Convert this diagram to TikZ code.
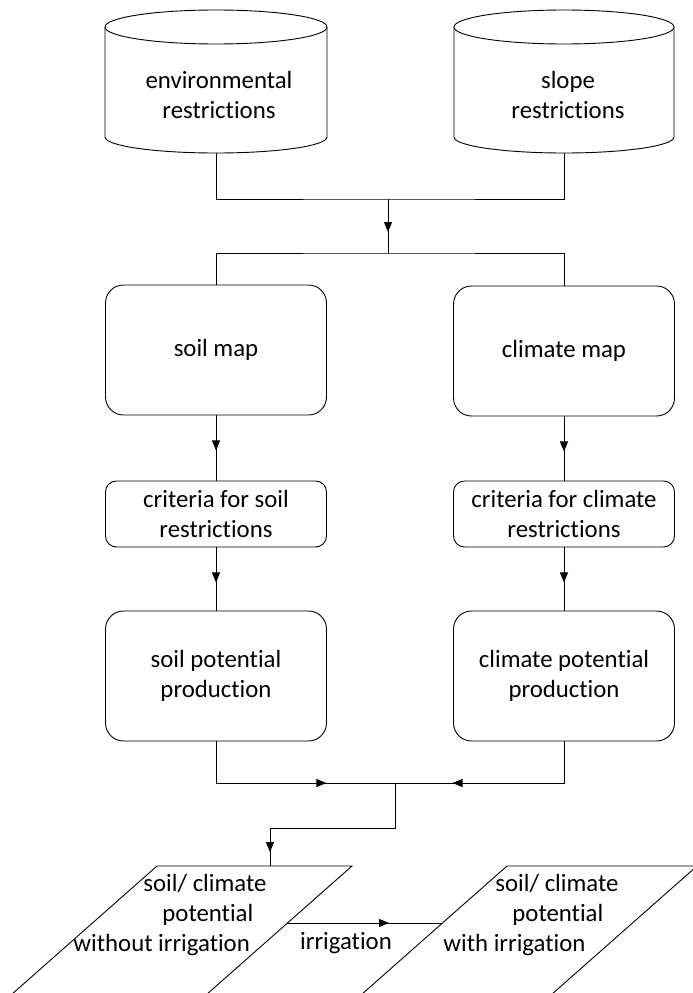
\documentclass[tikz,border=0pt]{standalone}
\usepackage{fontspec}
\setmainfont{Carlito}[Ligatures=NoCommon]
\usetikzlibrary{arrows.meta,decorations.markings}

\begin{document}
\begin{tikzpicture}[x=1pt,y=1pt,line width=0.9pt,
   every node/.style={font=\fontsize{24.8}{30}\selectfont,align=center,inner sep=0pt},
   mapbox/.style={draw,rounded corners=18pt,minimum width=221pt,minimum height=130pt},
   critbox/.style={draw,rounded corners=11pt,minimum width=221pt,minimum height=66pt},
   midarrow/.style={decoration={markings,mark=at position #1 with {\arrow{Triangle[length=10pt,width=8pt]}}},postaction={decorate}}]
\useasboundingbox (0,0) rectangle (693,-993);
\clip (0,0) rectangle (693,-993);
% data sources
\draw (216,-27) ellipse [x radius=111,y radius=17];
\draw (105,-27) -- (105,-137) arc[start angle=180,end angle=360,x radius=111,y radius=16] -- (327,-27);
\draw (564,-27) ellipse [x radius=110,y radius=17];
\draw (454,-27) -- (454,-137) arc[start angle=180,end angle=360,x radius=110,y radius=16] -- (674,-27);
\node (env) at (219,-95) {environmental\\restrictions};
\node (slope) at (568,-95) {slope\\restrictions};
\coordinate (env-b) at (216,-153);
\coordinate (slope-b) at (564,-153);
\coordinate (j1) at (388,-199);
\coordinate (j2) at (388,-253);
% maps and criteria
\node[mapbox] (soilmap) at (216,-350) {soil map};
\node[mapbox] (climmap) at (564,-351) {climate map};
\node[critbox] (soilcrit) at (216,-514) {criteria for soil\\restrictions};
\node[critbox] (climcrit) at (564,-514) {criteria for climate\\restrictions};
\node[mapbox] (soilpot) at (216,-676) {soil potential\\production};
\node[mapbox] (climpot) at (564,-676) {climate potential\\production};
\draw (env-b) |- (j1) -| (slope-b);
\draw[midarrow=33pt] (j1) -- (j2);
\draw (soilmap.north) |- (j2) -| (climmap.north);
\draw[midarrow=35pt] (soilmap) -- (soilcrit);
\draw[midarrow=35pt] (climmap) -- (climcrit);
\draw[midarrow=35pt] (soilcrit) -- (soilpot);
\draw[midarrow=35pt] (climcrit) -- (climpot);
% results
\coordinate (j3) at (395,-783);
\coordinate (j4) at (270,-828);
\coordinate (dry-n) at (270,-866);
\coordinate (dry-e) at (287,-923);
\coordinate (wet-w) at (442,-923);
\draw[midarrow=152pt] (soilpot.south) |- (j3);
\draw[midarrow=153pt] (climpot.south) |- (j3);
\draw[midarrow=194pt] (j3) |- (j4) -- (dry-n);
\draw (157,-866) -- (352,-866) -- (189,-1010) -- (-6,-1010) -- cycle;
\draw (507,-866) -- (697,-866) -- (534,-1010) -- (344,-1010) -- cycle;
\node[anchor=west,align=left] (dry) at (73,-915) {\hspace*{70pt}soil/ climate\\\hspace*{89pt}potential\\without irrigation};
\node[anchor=west,align=left] (wet) at (443,-915) {\hspace*{52pt}soil/ climate\\\hspace*{69pt}potential\\with irrigation};
\draw[midarrow=102pt] (dry-e) -- (wet-w);
\node (irr) at (346,-943) {irrigation};
\end{tikzpicture}
\end{document}
